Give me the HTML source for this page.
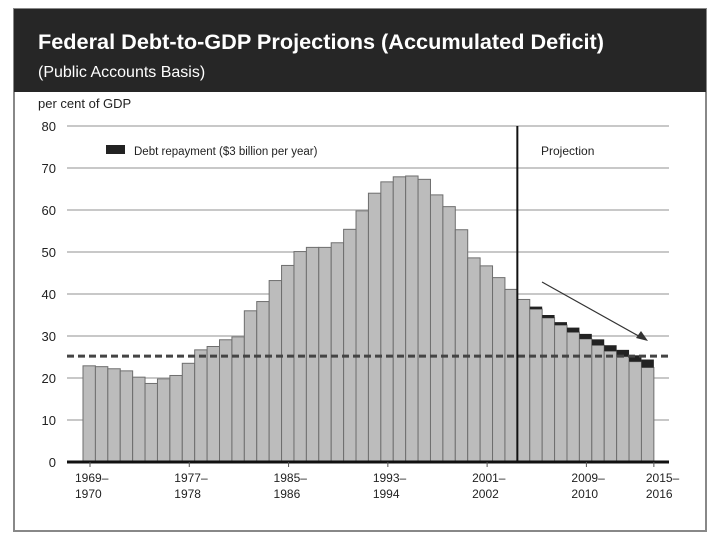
<!DOCTYPE html>
<html><head><meta charset="utf-8"><style>
html,body{margin:0;padding:0;background:#fff;}
svg{display:block;font-family:"Liberation Sans",sans-serif;}
</style></head><body>
<svg id="chart" width="720" height="540" viewBox="0 0 720 540">
<rect x="14" y="9" width="692" height="522" fill="#fff" stroke="#888" stroke-width="2"/>
<rect x="14" y="9" width="692" height="83" fill="#262626"/>
<text x="38" y="49" fill="#fff" font-size="21" font-weight="bold" textLength="566" lengthAdjust="spacingAndGlyphs">Federal Debt-to-GDP Projections (Accumulated Deficit)</text>
<text x="38" y="77" fill="#fff" font-size="16">(Public Accounts Basis)</text>
<text x="38" y="108" fill="#222" font-size="13">per cent of GDP</text>
<g id="grid"></g>
<g id="bars"></g>
<g id="overlay"></g>
</svg>
<script>
const years = ["1969","1970","1971","1972","1973","1974","1975","1976","1977","1978","1979","1980","1981","1982","1983","1984","1985","1986","1987","1988","1989","1990","1991","1992","1993","1994","1995","1996","1997","1998","1999","2000","2001","2002","2003","2004","2005","2006","2007","2008","2009","2010","2011","2012","2013","2014"];
const debtTotal = [22.9,22.7,22.2,21.7,20.2,18.7,19.8,20.6,23.5,26.7,27.5,29.1,29.8,36.0,38.2,43.2,46.8,50.1,51.1,51.1,52.2,55.4,59.8,64.0,66.7,67.9,68.1,67.3,63.6,60.8,55.3,48.6,46.7,43.9,41.1,38.7,37.0,35.0,33.3,32.0,30.5,29.2,27.8,26.7,25.4,24.4];
const repayment = [0,0,0,0,0,0,0,0,0,0,0,0,0,0,0,0,0,0,0,0,0,0,0,0,0,0,0,0,0,0,0,0,0,0,0,0,0.6,0.7,0.7,1.1,1.2,1.4,1.4,1.6,1.5,1.9];
const yTicks = [0,10,20,30,40,50,60,70,80];
const xLabels = [["1969–","1970",0],["1977–","1978",8],["1985–","1986",16],["1993–","1994",24],["2001–","2002",32],["2009–","2010",40],["2015–","2016",46]];
const targetLevel = 25.2;
const projectionStart = 35;

const NS="http://www.w3.org/2000/svg";
const x0=83, bw=12.41, yBase=462, yTop=126, yMax=80;
const xs=i=>x0+i*bw;
const ys=v=>yBase-(v/yMax)*(yBase-yTop);
function mk(t,a,p){const e=document.createElementNS(NS,t);for(const k in a)e.setAttribute(k,a[k]);p.appendChild(e);return e;}
const grid=document.getElementById('grid'),bars=document.getElementById('bars'),ov=document.getElementById('overlay');
yTicks.forEach(v=>{
  if(v>0){const g=mk('line',{x1:67,x2:669,y1:ys(v),y2:ys(v),stroke:'#c8c8c8','stroke-width':2},grid);
  
  }
  const t=mk('text',{x:56,y:ys(v)+5,'text-anchor':'end','font-size':13,fill:'#222'},grid);
  t.textContent=v;
  
  
});
debtTotal.forEach((v,i)=>{
  const r=repayment[i], base=v-r;
  const b=mk('rect',{x:xs(i),y:ys(base),width:bw,height:yBase-ys(base),fill:'#bcbcbc',stroke:'#6e6e6e','stroke-width':1},bars);
  
  
  if(r>0){const c=mk('rect',{x:xs(i),y:ys(v),width:bw,height:ys(base)-ys(v),fill:'#222'},bars);
  
  }
});
const ax=mk('line',{x1:67,x2:669,y1:yBase,y2:yBase,stroke:'#111','stroke-width':3},ov);


const dl=mk('line',{x1:67,x2:669,y1:ys(targetLevel),y2:ys(targetLevel),stroke:'#444','stroke-width':3,'stroke-dasharray':'7,4'},ov);


const pl=mk('line',{x1:xs(projectionStart),x2:xs(projectionStart),y1:yTop,y2:yBase,stroke:'#111','stroke-width':2},ov);


const pt=mk('text',{x:541,y:155,'font-size':12,fill:'#222'},ov);pt.textContent='Projection';


const ls=mk('rect',{x:106,y:145,width:19,height:9,fill:'#222'},ov);


const lt=mk('text',{x:134,y:155,'font-size':11.5,fill:'#222'},ov);lt.textContent='Debt repayment ($3 billion per year)';


const ar=mk('line',{x1:542,y1:282,x2:644,y2:339,stroke:'#333','stroke-width':1.2},ov);


const ah=mk('polygon',{points:'648,341 636,338 641,331',fill:'#333'},ov);


xLabels.forEach(l=>{
  const x=xs(l[2])-8;
  const tk=mk('line',{x1:xs(l[2])+(l[2]==46?0:7),x2:xs(l[2])+(l[2]==46?0:7),y1:yBase,y2:yBase+5,stroke:'#555'},ov);
  
  
  const t=mk('text',{x:x,y:482,'font-size':12,fill:'#222'},ov);
  
  
  const s1=mk('tspan',{x:x},t);s1.textContent=l[0];
  const s2=mk('tspan',{x:x,dy:16},t);s2.textContent=l[1];
});
</script>
</body></html>
